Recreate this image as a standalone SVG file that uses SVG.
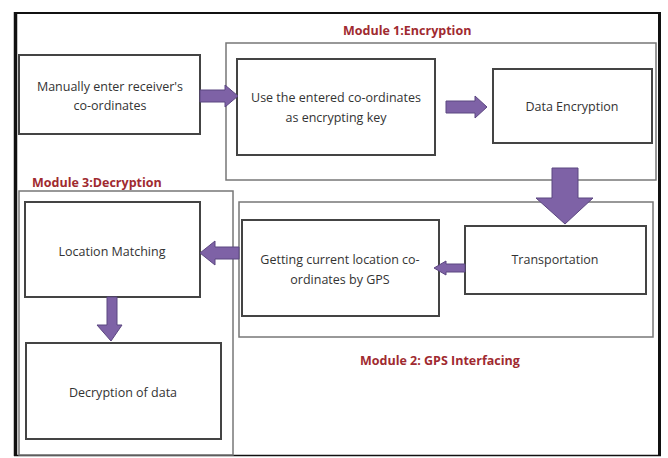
<svg xmlns="http://www.w3.org/2000/svg" width="668" height="458" viewBox="0 0 668 458">
<style>
.frame{fill:none;stroke:#111;}
.mod{fill:none;stroke:#777;stroke-width:1.5;}
.box{fill:#fff;stroke:#444;stroke-width:2;}
.t{font-family:"Open Sans","Liberation Sans",sans-serif;font-size:12.5px;fill:#333;text-anchor:middle;}
.lbl{font-family:"Open Sans","Liberation Sans",sans-serif;font-size:12.5px;font-weight:bold;fill:#a02a30;}
.arr{fill:#7e62a6;stroke:#5b4680;stroke-width:1;}
</style>
<rect width="668" height="458" fill="#fff"/>
<g id="frame">
<line x1="14" y1="13" x2="661" y2="13" class="frame" stroke-width="2"/>
<line x1="15.5" y1="12" x2="15.5" y2="456" class="frame" stroke-width="3.5"/>
<line x1="659.5" y1="12" x2="659.5" y2="456" class="frame" stroke-width="3"/>
<line x1="14" y1="455.5" x2="661" y2="455.5" class="frame" stroke-width="1.5"/>
</g>
<g id="module1">
<rect x="226" y="43" width="430" height="137" class="mod"/>
<text x="343" y="35" class="lbl">Module 1:Encryption</text>
</g>
<g id="module2">
<rect x="239" y="202" width="414" height="135" class="mod"/>
<text x="360" y="365" class="lbl">Module 2: GPS Interfacing</text>
</g>
<g id="module3">
<rect x="19" y="191" width="214" height="264" class="mod"/>
<text x="32" y="187" class="lbl">Module 3:Decryption</text>
</g>
<g id="n1">
<rect x="19" y="55" width="181" height="79" class="box"/>
<text x="110" y="91" class="t">Manually enter receiver's</text>
<text x="110" y="110" class="t">co-ordinates</text>
</g>
<g id="n2">
<rect x="237" y="59" width="198" height="96" class="box"/>
<text x="336" y="102" class="t">Use the entered co-ordinates</text>
<text x="336" y="122" class="t">as encrypting key</text>
</g>
<g id="n3">
<rect x="493" y="69" width="159" height="74" class="box"/>
<text x="572" y="111" class="t">Data Encryption</text>
</g>
<g id="n4">
<rect x="465" y="226" width="181" height="68" class="box"/>
<text x="555" y="264" class="t">Transportation</text>
</g>
<g id="n5">
<rect x="242" y="220" width="197" height="96" class="box"/>
<text x="340" y="264" class="t">Getting current location co-</text>
<text x="340" y="284" class="t">ordinates by GPS</text>
</g>
<g id="n6">
<rect x="25" y="202" width="175" height="95" class="box"/>
<text x="112" y="256" class="t">Location Matching</text>
</g>
<g id="n7">
<rect x="26" y="343" width="195" height="96" class="box"/>
<text x="123" y="397" class="t">Decryption of data</text>
</g>
<g id="connectors">
<polygon class="arr" points="200,90 225,90 225,85 238,96 225,107 225,102 200,102"/>
<polygon class="arr" points="446,101 475,101 475,96 487,107 475,118 475,113 446,113"/>
<polygon class="arr" points="552,168 578,168 578,198 593,198 565,224 536,198 552,198"/>
<polygon class="arr" points="465,264 446,264 446,261 434,268 446,275 446,272 465,272"/>
<polygon class="arr" points="239,247 215,247 215,241 200,253 215,265 215,259 239,259"/>
<polygon class="arr" points="107,297 117,297 117,325 122,325 111,341 97,325 107,325"/>
</g>
</svg>
